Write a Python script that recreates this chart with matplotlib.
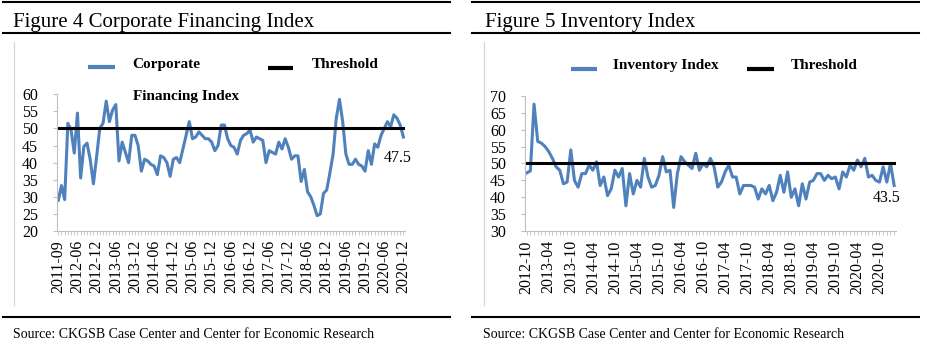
import matplotlib
matplotlib.use("Agg")
import matplotlib.pyplot as plt
from matplotlib.lines import Line2D
from matplotlib.ticker import MultipleLocator, FixedLocator
import numpy as np

plt.rcParams['font.family'] = ['Liberation Serif', 'DejaVu Serif']

# ---------------- data ----------------
fin_labels = ["2011-09", "2012-06", "2012-12", "2013-06", "2013-12", "2014-06", "2014-12",
              "2015-06", "2015-12", "2016-06", "2016-12", "2017-06", "2017-12", "2018-06",
              "2018-12", "2019-06", "2019-12", "2020-06", "2020-12"]
fin_values = [29, 33.3, 29.2, 51.5, 49.6, 42.8, 54.5, 35.5, 44.7, 45.7,
              40.9, 33.8, 41.8, 50.1, 51.5, 58, 52, 55.4, 57, 40.5,
              46, 43, 40, 48, 48, 45, 37.5, 41, 40.5, 39.5,
              39, 36.5, 42, 41.5, 40, 36, 41, 41.5, 40, 44,
              48, 52, 47, 47.5, 49, 48, 47, 47, 46, 43.5,
              45, 51, 51, 47, 45, 44.5, 42.5, 46.5, 48, 48.5,
              49.5, 46, 47.5, 47, 46.5, 40, 43.5, 43, 42.5, 46,
              44, 47, 44.5, 41, 42, 42, 34.5, 38, 31.5, 30,
              27.5, 24.5, 25, 31, 32, 37, 42.5, 53, 58.5, 52,
              42.5, 39.5, 39.5, 41, 39.5, 39, 37.5, 43.5, 39.5, 45.5,
              44.5, 48, 50, 52, 50.5, 54, 53, 51, 47.5]
fin_threshold = 50

inv_labels = ["2012-10", "2013-04", "2013-10", "2014-04", "2014-10", "2015-04", "2015-10",
              "2016-04", "2016-10", "2017-04", "2017-10", "2018-04", "2018-10", "2019-04",
              "2019-10", "2020-04", "2020-10"]
inv_values = [47.2, 47.8, 67.5, 56.5, 56, 55, 53.5, 51.5, 49, 48,
              44, 44.5, 54, 45, 43, 47, 47, 49.5, 48, 50.5,
              43.5, 46, 40.5, 42.5, 48, 46, 48.5, 37.5, 47, 41,
              45, 43, 51.5, 46, 43, 43.5, 46.5, 52, 47.5, 48,
              37, 47, 52, 50.5, 49.5, 48.5, 53, 48, 50, 49,
              51.5, 49, 43, 44.5, 47.5, 49.5, 46, 46, 41, 43.5,
              43.5, 43.5, 43, 39.5, 42.5, 41, 43.5, 39, 41.5, 46.5,
              41.5, 47.5, 40, 42.5, 37.5, 44, 39.5, 44.5, 45, 47,
              47, 45, 46.5, 45.5, 46, 42.5, 47.5, 46, 49.5, 48,
              51, 49, 51.5, 46, 46.5, 45, 44.5, 49, 44.5, 50,
              43.5]
inv_threshold = 50

label_step = 6

W, H = 928, 350
fig = plt.figure(figsize=(W / 100, H / 100), dpi=100)


def fx(px):
    return px / W


def fy(py):
    return 1 - py / H


BLUE = "#4F81BD"
AXC = "#BFBFBF"


def hrule(x0, x1, y, lw=1.5):
    fig.add_artist(Line2D([fx(x0), fx(x1)], [fy(y), fy(y)], color="black", lw=lw,
                          transform=fig.transFigure))


def vrule(x, y0, y1):
    fig.add_artist(Line2D([fx(x), fx(x)], [fy(y0), fy(y1)], color="#D4D4D4", lw=0.8,
                          transform=fig.transFigure))


def legend_key(x0, x1, y, color):
    fig.add_artist(Line2D([fx(x0), fx(x1)], [fy(y), fy(y)], color=color, lw=3.0,
                          transform=fig.transFigure, solid_capstyle='butt'))


def panel(rect, values, threshold, labels, ylim, ystep, xlim, ann_offset):
    ax = fig.add_axes(rect)
    x = np.arange(len(values))
    ax.plot(x, values, color=BLUE, lw=2.2, solid_joinstyle='round')
    ax.plot(x, [threshold] * len(values), color="black", lw=2.2)
    ax.set_xlim(*xlim)
    ax.set_ylim(*ylim)
    for s in ["top", "right"]:
        ax.spines[s].set_visible(False)
    for s in ["left", "bottom"]:
        ax.spines[s].set_color(AXC)
        ax.spines[s].set_linewidth(0.8)
    ax.yaxis.set_major_locator(MultipleLocator(ystep))
    ax.set_xticks(np.arange(len(labels)) * label_step)
    ax.set_xticklabels(labels, rotation=90)
    ax.xaxis.set_minor_locator(FixedLocator(x))
    ax.tick_params(axis='y', direction='out', length=3, width=0.8, color=AXC,
                   labelsize=11.5, pad=10.5)
    ax.tick_params(axis='x', which='both', direction='out', length=3, width=0.6,
                   color=AXC, labelsize=11.5, pad=3.5)
    ax.patch.set_alpha(0)
    ax.annotate(f"{values[-1]}", xy=(x[-1], values[-1]), xytext=ann_offset,
                textcoords='offset points', ha='left', va='baseline', fontsize=11.5)
    return ax


# left panel
panel([fx(57), fy(231), fx(405) - fx(57), fy(94.3) - fy(231)],
      fin_values, fin_threshold, fin_labels, (20, 60), 5, (-0.4, 108.5), (-14.5, -17.8))
# right panel
panel([fx(525), fy(231.2), fx(896) - fx(525), fy(95.7) - fy(231.2)],
      inv_values, inv_threshold, inv_labels, (30, 70), 5, (-0.46, 100.5), (-15.6, -12.1))

# decorations: rules, titles, sources
hrule(3, 450, 1.8)
hrule(3, 450, 33.3)
hrule(3, 450, 316.7)
hrule(472, 919, 1.8)
hrule(472, 919, 33.3)
hrule(472, 919, 316.7)
vrule(14, 42, 305)
vrule(484, 42, 305)

fig.text(fx(13), fy(27.3), "Figure 4 Corporate Financing Index", fontsize=15, va='baseline')
fig.text(fx(484.7), fy(27.3), "Figure 5 Inventory Index", fontsize=15, va='baseline')
fig.text(fx(13.3), fy(338), "Source: CKGSB Case Center and Center for Economic Research",
         fontsize=10, va='baseline')
fig.text(fx(483.3), fy(338), "Source: CKGSB Case Center and Center for Economic Research",
         fontsize=10, va='baseline')

# legends
legend_key(88, 115, 67, BLUE)
fig.text(fx(132.7), fy(68.3), "Corporate", fontsize=11, fontweight='bold', va='baseline')
fig.text(fx(132.7), fy(100), "Financing Index", fontsize=11, fontweight='bold', va='baseline')
legend_key(268, 293, 68, "black")
fig.text(fx(311.7), fy(68.3), "Threshold", fontsize=11, fontweight='bold', va='baseline')

legend_key(571.3, 597.3, 69, BLUE)
fig.text(fx(613.3), fy(69.3), "Inventory Index", fontsize=11, fontweight='bold', va='baseline')
legend_key(747.3, 774, 69, "black")
fig.text(fx(790.7), fy(69.3), "Threshold", fontsize=11, fontweight='bold', va='baseline')

fig.savefig("out.png", dpi=100, facecolor="white")
